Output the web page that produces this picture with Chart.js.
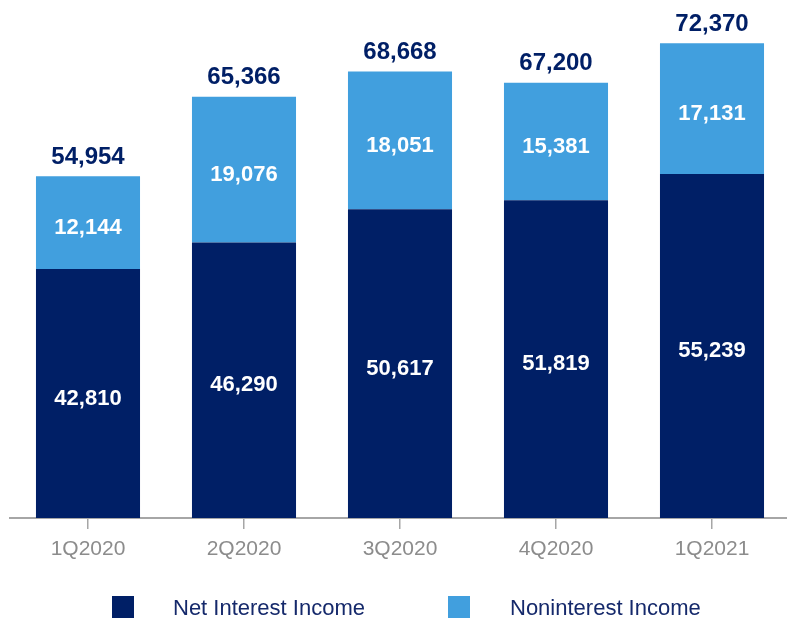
<!DOCTYPE html>
<html>
<head>
<meta charset="utf-8">
<script src="https://cdn.jsdelivr.net/npm/chart.js@4.4.1/dist/chart.umd.min.js"></script>
<style>
  html, body { margin: 0; padding: 0; background: #ffffff; overflow: hidden; }
  #wrap { position: relative; width: 800px; height: 618px; }
  canvas { display: block; }
</style>
</head>
<body>
<div id="wrap"><canvas id="c" width="800" height="618"></canvas></div>
<script>
// Quarterly revenue split
const quarters = ['1Q2020', '2Q2020', '3Q2020', '4Q2020', '1Q2021'];
const netInterestIncome = [42810, 46290, 50617, 51819, 55239];
const noninterestIncome = [12144, 19076, 18051, 15381, 17131];
const totalRevenue = [54954, 65366, 68668, 67200, 72370];

const NAVY = '#001F66';
const LIGHT = '#419FDE';
const AXIS_GREY = '#A6A6A6';
const LABEL_GREY = '#8C8C8C';
const FONT = '"Liberation Sans", Arial, sans-serif';

const fmt = v => v.toLocaleString('en-US');

// Value labels inside each segment and totals above each stack
const valueLabels = {
  id: 'valueLabels',
  afterDatasetsDraw(chart) {
    const { ctx, chartArea } = chart;
    ctx.save();
    ctx.textAlign = 'center';
    ctx.textBaseline = 'middle';
    chart.data.datasets.forEach((ds, di) => {
      const meta = chart.getDatasetMeta(di);
      meta.data.forEach((bar, i) => {
        const base = Math.min(bar.base, chartArea.bottom);
        const cy = (bar.y + base) / 2 + 5;
        ctx.fillStyle = '#ffffff';
        ctx.font = 'bold 22px ' + FONT;
        ctx.fillText(fmt(ds.data[i]), bar.x, cy);
      });
    });
    const topMeta = chart.getDatasetMeta(chart.data.datasets.length - 1);
    topMeta.data.forEach((bar, i) => {
      ctx.fillStyle = NAVY;
      ctx.font = 'bold 24px ' + FONT;
      ctx.fillText(fmt(totalRevenue[i]), bar.x, bar.y - 19);
    });
    ctx.restore();
  }
};

// Legend row under the axis
const bottomLegend = {
  id: 'bottomLegend',
  afterDraw(chart) {
    const { ctx } = chart;
    const items = [
      { box: 112, text: 173 },
      { box: 448, text: 510 }
    ];
    ctx.save();
    ctx.textBaseline = 'middle';
    ctx.textAlign = 'left';
    ctx.font = '22px ' + FONT;
    chart.data.datasets.forEach((ds, i) => {
      const it = items[i];
      ctx.fillStyle = ds.backgroundColor;
      ctx.fillRect(it.box, 596, 22, 22);
      ctx.fillStyle = '#15296B';
      ctx.fillText(ds.label, it.text, 609);
    });
    ctx.restore();
  }
};

new Chart(document.getElementById('c'), {
  type: 'bar',
  data: {
    labels: quarters,
    datasets: [
      { label: 'Net Interest Income', data: netInterestIncome, backgroundColor: NAVY },
      { label: 'Noninterest Income', data: noninterestIncome, backgroundColor: LIGHT }
    ]
  },
  options: {
    responsive: false,
    animation: false,
    devicePixelRatio: 1,
    layout: { padding: { top: 14, left: 10, right: 10, bottom: 0 } },
    plugins: { legend: { display: false }, tooltip: { enabled: false } },
    datasets: { bar: { barPercentage: 0.667, categoryPercentage: 1.0, borderWidth: 0 } },
    scales: {
      x: {
        stacked: true,
        border: { display: true, color: AXIS_GREY, width: 2 },
        grid: {
          display: true, drawOnChartArea: false, drawTicks: true,
          tickLength: 11, offset: false, color: AXIS_GREY, lineWidth: 1.5
        },
        ticks: { color: LABEL_GREY, font: { family: FONT, size: 21 }, padding: 8 },
        afterFit(scale) { scale.height = 100; }
      },
      y: {
        stacked: true,
        display: false,
        min: 10200,
        max: 76200
      }
    }
  },
  plugins: [valueLabels, bottomLegend]
});
</script>
</body>
</html>
